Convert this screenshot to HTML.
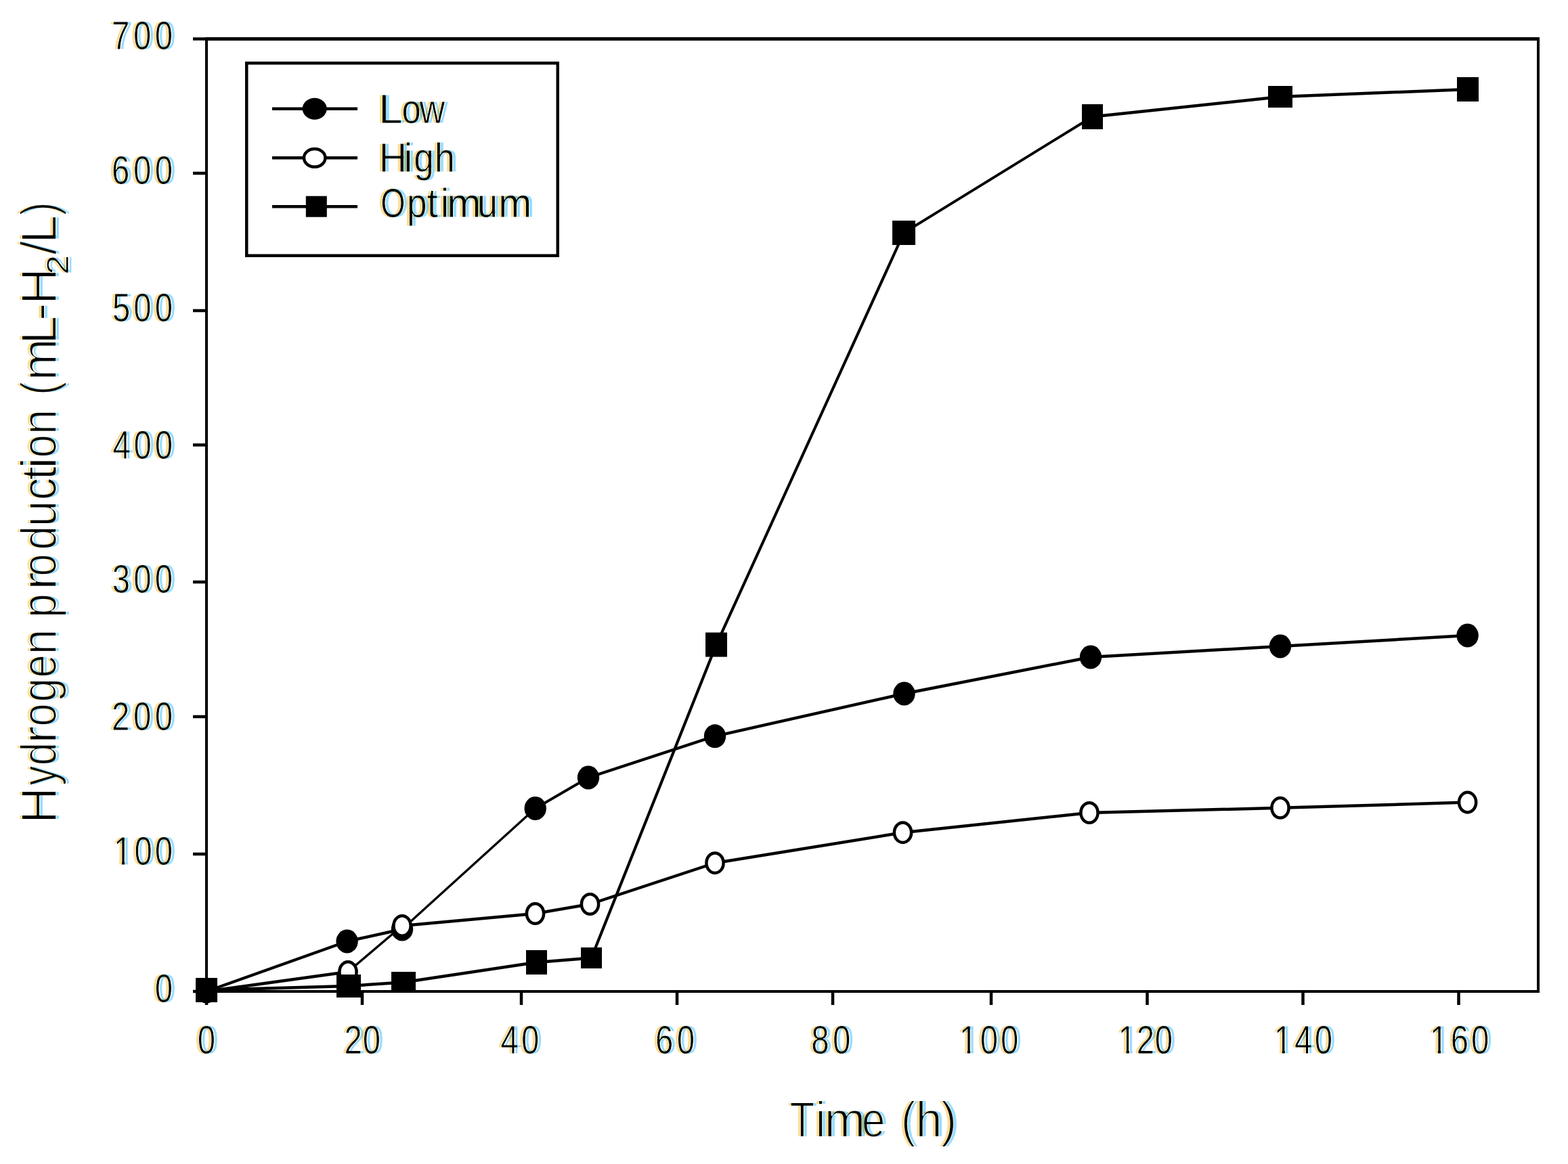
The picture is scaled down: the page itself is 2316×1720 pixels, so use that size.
<!DOCTYPE html>
<html><head><meta charset="utf-8"><title>Hydrogen production vs time</title>
<style>
html,body{margin:0;padding:0;background:#fff;}
body{width:2316px;height:1720px;overflow:hidden;}
svg{display:block;}
text{font-family:"Liberation Sans",Arial,sans-serif;fill:#000;stroke:#fff;stroke-linejoin:round;}
.t1{stroke-width:1.0px;}
.t2{stroke-width:2.0px;}
</style></head><body>
<svg width="2316" height="1720" viewBox="0 0 2316 1720">
<defs>
<filter id="ct" filterUnits="userSpaceOnUse" x="0" y="0" width="2316" height="1720" color-interpolation-filters="sRGB">
<feFlood flood-color="#fff" result="w"/>
<feComposite in="SourceGraphic" in2="w" operator="over" result="txt"/>
<feColorMatrix in="txt" type="matrix" values="0 0 0 0 0  0 0 0 0 0  0 0 0 0 0  -1 0 0 0 1" result="ink"/>
<feOffset in="ink" dx="4.5" dy="0" result="r0"/>
<feOffset in="ink" dx="-4.5" dy="0" result="b0"/>
<feColorMatrix in="r0" type="matrix" values="0 0 0 0 0  0 0 0 0 0  0 0 0 0 0  0 0 0 0.4 0" result="r1"/>
<feColorMatrix in="b0" type="matrix" values="0 0 0 0 0  0 0 0 0 0  0 0 0 0 0  0 0 0 0.42 0" result="b1"/>
<feComposite in="r1" in2="ink" operator="over" result="uR"/>
<feComposite in="b1" in2="ink" operator="over" result="uB"/>
<feColorMatrix in="uR" type="matrix" values="0 0 0 -1 1  0 0 0 0 0  0 0 0 0 0  0 0 0 0 1" result="cR"/>
<feColorMatrix in="r0" type="matrix" values="0 0 0 0 0  0 0 0 0 0  0 0 0 0 0  0 0 0 0.13 0" result="g1"/>
<feColorMatrix in="b0" type="matrix" values="0 0 0 0 0  0 0 0 0 0  0 0 0 0 0  0 0 0 0.13 0" result="g2"/>
<feComposite in="g1" in2="ink" operator="over" result="uG0"/>
<feComposite in="g2" in2="uG0" operator="over" result="uG"/>
<feColorMatrix in="uG" type="matrix" values="0 0 0 0 0  0 0 0 -1 1  0 0 0 0 0  0 0 0 0 1" result="cG"/>
<feColorMatrix in="uB" type="matrix" values="0 0 0 0 0  0 0 0 0 0  0 0 0 -1 1  0 0 0 0 1" result="cB"/>
<feComposite in="cR" in2="cG" operator="arithmetic" k1="0" k2="1" k3="1" k4="0" result="rg"/>
<feComposite in="rg" in2="cB" operator="arithmetic" k1="0" k2="1" k3="1" k4="0"/>
</filter>
</defs>
<rect x="0" y="0" width="2316" height="1720" fill="#fff"/>
<g filter="url(#ct)">
<text class="t1" y="73.0" font-size="59.3"><tspan x="165.1" textLength="26.38" lengthAdjust="spacingAndGlyphs">7</tspan><tspan x="196.9" textLength="26.38" lengthAdjust="spacingAndGlyphs">0</tspan><tspan x="228.8" textLength="26.38" lengthAdjust="spacingAndGlyphs">0</tspan></text>
<text class="t1" y="272.0" font-size="59.3"><tspan x="165.1" textLength="26.38" lengthAdjust="spacingAndGlyphs">6</tspan><tspan x="196.9" textLength="26.38" lengthAdjust="spacingAndGlyphs">0</tspan><tspan x="228.8" textLength="26.38" lengthAdjust="spacingAndGlyphs">0</tspan></text>
<text class="t1" y="474.5" font-size="59.3"><tspan x="165.9" textLength="26.38" lengthAdjust="spacingAndGlyphs">5</tspan><tspan x="197.3" textLength="26.38" lengthAdjust="spacingAndGlyphs">0</tspan><tspan x="228.8" textLength="26.38" lengthAdjust="spacingAndGlyphs">0</tspan></text>
<text class="t1" y="678.0" font-size="59.3"><tspan x="166.4" textLength="26.38" lengthAdjust="spacingAndGlyphs">4</tspan><tspan x="197.6" textLength="26.38" lengthAdjust="spacingAndGlyphs">0</tspan><tspan x="228.8" textLength="26.38" lengthAdjust="spacingAndGlyphs">0</tspan></text>
<text class="t1" y="876.0" font-size="59.3"><tspan x="165.7" textLength="26.38" lengthAdjust="spacingAndGlyphs">3</tspan><tspan x="197.2" textLength="26.38" lengthAdjust="spacingAndGlyphs">0</tspan><tspan x="228.8" textLength="26.38" lengthAdjust="spacingAndGlyphs">0</tspan></text>
<text class="t1" y="1079.0" font-size="59.3"><tspan x="165.1" textLength="26.38" lengthAdjust="spacingAndGlyphs">2</tspan><tspan x="196.9" textLength="26.38" lengthAdjust="spacingAndGlyphs">0</tspan><tspan x="228.8" textLength="26.38" lengthAdjust="spacingAndGlyphs">0</tspan></text>
<text class="t1" y="1277.7" font-size="59.3"><tspan x="168.0" textLength="26.38" lengthAdjust="spacingAndGlyphs">1</tspan><tspan x="198.6" textLength="26.38" lengthAdjust="spacingAndGlyphs">0</tspan><tspan x="228.8" textLength="26.38" lengthAdjust="spacingAndGlyphs">0</tspan></text>
<text class="t1" y="1481.0" font-size="59.3"><tspan x="228.7" textLength="26.38" lengthAdjust="spacingAndGlyphs">0</tspan></text>
<text class="t1" y="1557.0" font-size="59.3"><tspan x="291.8" textLength="26.38" lengthAdjust="spacingAndGlyphs">0</tspan></text>
<text class="t1" y="1557.0" font-size="59.3"><tspan x="508.5" textLength="26.38" lengthAdjust="spacingAndGlyphs">2</tspan><tspan x="535.8" textLength="26.38" lengthAdjust="spacingAndGlyphs">0</tspan></text>
<text class="t1" y="1557.0" font-size="59.3"><tspan x="739.4" textLength="26.38" lengthAdjust="spacingAndGlyphs">4</tspan><tspan x="770.0" textLength="26.38" lengthAdjust="spacingAndGlyphs">0</tspan></text>
<text class="t1" y="1557.0" font-size="59.3"><tspan x="967.9" textLength="26.38" lengthAdjust="spacingAndGlyphs">6</tspan><tspan x="999.8" textLength="26.38" lengthAdjust="spacingAndGlyphs">0</tspan></text>
<text class="t1" y="1557.0" font-size="59.3"><tspan x="1198.3" textLength="26.38" lengthAdjust="spacingAndGlyphs">8</tspan><tspan x="1229.9" textLength="26.38" lengthAdjust="spacingAndGlyphs">0</tspan></text>
<text class="t1" y="1557.0" font-size="59.3"><tspan x="1416.9" textLength="26.38" lengthAdjust="spacingAndGlyphs">1</tspan><tspan x="1447.7" textLength="26.38" lengthAdjust="spacingAndGlyphs">0</tspan><tspan x="1478.0" textLength="26.38" lengthAdjust="spacingAndGlyphs">0</tspan></text>
<text class="t1" y="1557.0" font-size="59.3"><tspan x="1651.6" textLength="26.38" lengthAdjust="spacingAndGlyphs">1</tspan><tspan x="1678.7" textLength="26.38" lengthAdjust="spacingAndGlyphs">2</tspan><tspan x="1705.8" textLength="26.38" lengthAdjust="spacingAndGlyphs">0</tspan></text>
<text class="t1" y="1557.0" font-size="59.3"><tspan x="1881.7" textLength="26.38" lengthAdjust="spacingAndGlyphs">1</tspan><tspan x="1911.9" textLength="26.38" lengthAdjust="spacingAndGlyphs">4</tspan><tspan x="1941.8" textLength="26.38" lengthAdjust="spacingAndGlyphs">0</tspan></text>
<text class="t1" y="1557.0" font-size="59.3"><tspan x="2111.9" textLength="26.38" lengthAdjust="spacingAndGlyphs">1</tspan><tspan x="2142.7" textLength="26.38" lengthAdjust="spacingAndGlyphs">6</tspan><tspan x="2173.0" textLength="26.38" lengthAdjust="spacingAndGlyphs">0</tspan></text>
<rect x="169.7" y="1273.0" width="10.3" height="6.9" fill="#fff"/>
<rect x="184.2" y="1273.0" width="9.9" height="6.9" fill="#fff"/>
<rect x="1418.6" y="1552.3" width="10.3" height="6.9" fill="#fff"/>
<rect x="1433.1" y="1552.3" width="9.9" height="6.9" fill="#fff"/>
<rect x="1653.3" y="1552.3" width="10.3" height="6.9" fill="#fff"/>
<rect x="1667.8" y="1552.3" width="9.9" height="6.9" fill="#fff"/>
<rect x="1883.4" y="1552.3" width="10.3" height="6.9" fill="#fff"/>
<rect x="1897.9" y="1552.3" width="9.9" height="6.9" fill="#fff"/>
<rect x="2113.6" y="1552.3" width="10.3" height="6.9" fill="#fff"/>
<rect x="2128.1" y="1552.3" width="9.9" height="6.9" fill="#fff"/>
<text class="t1" y="182.2" font-size="60.5"><tspan x="559.3" textLength="35.32" lengthAdjust="spacingAndGlyphs">L</tspan><tspan x="593.4" textLength="28.27" lengthAdjust="spacingAndGlyphs">o</tspan><tspan x="619.6" textLength="37.80" lengthAdjust="spacingAndGlyphs">w</tspan></text>
<text class="t1" y="254.3" font-size="60.5"><tspan x="559.8" textLength="41.37" lengthAdjust="spacingAndGlyphs">H</tspan><tspan x="596.7" textLength="12.64" lengthAdjust="spacingAndGlyphs">i</tspan><tspan x="611.3" textLength="29.68" lengthAdjust="spacingAndGlyphs">g</tspan><tspan x="641.7" textLength="30.32" lengthAdjust="spacingAndGlyphs">h</tspan></text>
<text class="t1" y="321.1" font-size="60.5"><tspan x="562.3" textLength="36.46" lengthAdjust="spacingAndGlyphs">O</tspan><tspan x="601.1" textLength="29.68" lengthAdjust="spacingAndGlyphs">p</tspan><tspan x="630.6" textLength="16.32" lengthAdjust="spacingAndGlyphs">t</tspan><tspan x="650.7" textLength="12.64" lengthAdjust="spacingAndGlyphs">i</tspan><tspan x="660.1" textLength="50.65" lengthAdjust="spacingAndGlyphs">m</tspan><tspan x="705.0" textLength="30.11" lengthAdjust="spacingAndGlyphs">u</tspan><tspan x="736.0" textLength="49.46" lengthAdjust="spacingAndGlyphs">m</tspan></text>
<text class="t2" y="1680.0" font-size="74"><tspan x="1166.6" textLength="36.73" lengthAdjust="spacingAndGlyphs">T</tspan><tspan x="1204.4" textLength="15.17" lengthAdjust="spacingAndGlyphs">i</tspan><tspan x="1217.6" textLength="60.87" lengthAdjust="spacingAndGlyphs">m</tspan><tspan x="1273.1" textLength="34.37" lengthAdjust="spacingAndGlyphs">e</tspan><tspan x="1307.4"> </tspan><tspan x="1331.0" textLength="21.35" lengthAdjust="spacingAndGlyphs">(</tspan><tspan x="1352.4" textLength="39.15" lengthAdjust="spacingAndGlyphs">h</tspan><tspan x="1389.6" textLength="23.86" lengthAdjust="spacingAndGlyphs">)</tspan></text>
<g transform="translate(83.0,0) rotate(-90)">
<text class="t2" y="0" font-size="74"><tspan x="-1217.2" textLength="54.30" lengthAdjust="spacingAndGlyphs">H</tspan><tspan x="-1160.8" textLength="29.26" lengthAdjust="spacingAndGlyphs">y</tspan><tspan x="-1131.3" textLength="34.50" lengthAdjust="spacingAndGlyphs">d</tspan><tspan x="-1099.1" textLength="26.64" lengthAdjust="spacingAndGlyphs">r</tspan><tspan x="-1073.4" textLength="34.16" lengthAdjust="spacingAndGlyphs">o</tspan><tspan x="-1037.5" textLength="35.74" lengthAdjust="spacingAndGlyphs">g</tspan><tspan x="-1001.5" textLength="34.37" lengthAdjust="spacingAndGlyphs">e</tspan><tspan x="-967.5" textLength="37.97" lengthAdjust="spacingAndGlyphs">n</tspan><tspan x="-929.6"> </tspan><tspan x="-913.0" textLength="35.86" lengthAdjust="spacingAndGlyphs">p</tspan><tspan x="-872.6" textLength="27.71" lengthAdjust="spacingAndGlyphs">r</tspan><tspan x="-851.5" textLength="32.98" lengthAdjust="spacingAndGlyphs">o</tspan><tspan x="-812.7" textLength="35.86" lengthAdjust="spacingAndGlyphs">d</tspan><tspan x="-778.6" textLength="39.01" lengthAdjust="spacingAndGlyphs">u</tspan><tspan x="-739.3" textLength="33.63" lengthAdjust="spacingAndGlyphs">c</tspan><tspan x="-709.7" textLength="20.89" lengthAdjust="spacingAndGlyphs">t</tspan><tspan x="-694.1" textLength="19.72" lengthAdjust="spacingAndGlyphs">i</tspan><tspan x="-676.5" textLength="34.28" lengthAdjust="spacingAndGlyphs">o</tspan><tspan x="-642.2" textLength="37.57" lengthAdjust="spacingAndGlyphs">n</tspan><tspan x="-604.6"> </tspan><tspan x="-584.1" textLength="20.35" lengthAdjust="spacingAndGlyphs">(</tspan><tspan x="-562.5" textLength="62.30" lengthAdjust="spacingAndGlyphs">m</tspan><tspan x="-509.0" textLength="42.63" lengthAdjust="spacingAndGlyphs">L</tspan><tspan x="-474.6" textLength="27.42" lengthAdjust="spacingAndGlyphs">-</tspan><tspan x="-450.2" textLength="54.30" lengthAdjust="spacingAndGlyphs">H</tspan><tspan class="t1" x="-406.1" y="17.5" font-size="46" textLength="29.30" lengthAdjust="spacingAndGlyphs">2</tspan><tspan x="-376.6" y="0" textLength="20.60" lengthAdjust="spacingAndGlyphs">/</tspan><tspan x="-359.9" y="0" textLength="42.38" lengthAdjust="spacingAndGlyphs">L</tspan><tspan x="-318.4" y="0" textLength="20.10" lengthAdjust="spacingAndGlyphs">)</tspan></text>
</g>
</g>
<g fill="#000">
<rect x="303" y="55" width="1971" height="5"/>
<rect x="303" y="1463" width="1971" height="4"/>
<rect x="303" y="55" width="4" height="1412"/>
<rect x="2270" y="55" width="4" height="1412"/>
<rect x="285" y="1462.75" width="19" height="4.5"/>
<rect x="285" y="1259.75" width="19" height="4.5"/>
<rect x="285" y="1056.75" width="19" height="4.5"/>
<rect x="285" y="857.75" width="19" height="4.5"/>
<rect x="285" y="655.25" width="19" height="4.5"/>
<rect x="285" y="456.75" width="19" height="4.5"/>
<rect x="285" y="253.75" width="19" height="4.5"/>
<rect x="285" y="55.25" width="19" height="4.5"/>
<rect x="302.75" y="1466" width="4.5" height="19"/>
<rect x="532.75" y="1466" width="4.5" height="19"/>
<rect x="767.75" y="1466" width="4.5" height="19"/>
<rect x="997.75" y="1466" width="4.5" height="19"/>
<rect x="1227.75" y="1466" width="4.5" height="19"/>
<rect x="1461.75" y="1466" width="4.5" height="19"/>
<rect x="1692.25" y="1466" width="4.5" height="19"/>
<rect x="1922.25" y="1466" width="4.5" height="19"/>
<rect x="2152.25" y="1466" width="4.5" height="19"/>
</g>
<g stroke="#000" fill="none" stroke-linecap="butt">
<line x1="305" y1="1465" x2="512.6" y2="1391" stroke-width="4.24"/>
<line x1="512.6" y1="1391" x2="594" y2="1373" stroke-width="4.39"/>
<line x1="594" y1="1373" x2="790.7" y2="1194.5" stroke-width="3.33"/>
<line x1="790.7" y1="1194.5" x2="869" y2="1149" stroke-width="3.89"/>
<line x1="869" y1="1149" x2="1056" y2="1087.8" stroke-width="4.28"/>
<line x1="1056" y1="1087.8" x2="1335.5" y2="1025" stroke-width="4.39"/>
<line x1="1335.5" y1="1025" x2="1611" y2="971" stroke-width="4.42"/>
<line x1="1611" y1="971" x2="1891" y2="955" stroke-width="4.49"/>
<line x1="1891" y1="955" x2="2167.6" y2="939" stroke-width="4.49"/>
<line x1="305" y1="1465" x2="514" y2="1436" stroke-width="4.46"/>
<line x1="514" y1="1436" x2="594" y2="1368" stroke-width="3.43"/>
<line x1="594" y1="1368" x2="790.5" y2="1350" stroke-width="4.48"/>
<line x1="790.5" y1="1350" x2="871.5" y2="1336" stroke-width="4.43"/>
<line x1="871.5" y1="1336" x2="1056" y2="1275.2" stroke-width="4.27"/>
<line x1="1056" y1="1275.2" x2="1333.5" y2="1230.2" stroke-width="4.44"/>
<line x1="1333.5" y1="1230.2" x2="1609" y2="1201" stroke-width="4.47"/>
<line x1="1609" y1="1201" x2="1891" y2="1193.8" stroke-width="4.50"/>
<line x1="1891" y1="1193.8" x2="2167.6" y2="1185.6" stroke-width="4.50"/>
<line x1="305" y1="1463" x2="515" y2="1457" stroke-width="4.50"/>
<line x1="515" y1="1457" x2="596" y2="1451.5" stroke-width="4.49"/>
<line x1="596" y1="1451.5" x2="792.5" y2="1422" stroke-width="4.45"/>
<line x1="792.5" y1="1422" x2="873.5" y2="1415.5" stroke-width="4.49"/>
<line x1="873.5" y1="1415.5" x2="1058" y2="952.6" stroke-width="4.18"/>
<line x1="1058" y1="952.6" x2="1335" y2="344" stroke-width="4.10"/>
<line x1="1335" y1="344" x2="1613.5" y2="172.5" stroke-width="3.83"/>
<line x1="1613.5" y1="172.5" x2="1891" y2="143" stroke-width="4.47"/>
<line x1="1891" y1="143" x2="2168" y2="132" stroke-width="4.50"/>
</g>
<g>
<ellipse cx="305" cy="1465" rx="16.2" ry="17.5" fill="#000"/>
<ellipse cx="512.6" cy="1391" rx="16.2" ry="17.5" fill="#000"/>
<ellipse cx="594" cy="1373" rx="16.2" ry="17.5" fill="#000"/>
<ellipse cx="790.7" cy="1194.5" rx="16.2" ry="17.5" fill="#000"/>
<ellipse cx="869" cy="1149" rx="16.2" ry="17.5" fill="#000"/>
<ellipse cx="1056" cy="1087.8" rx="16.2" ry="17.5" fill="#000"/>
<ellipse cx="1335.5" cy="1025" rx="16.2" ry="17.5" fill="#000"/>
<ellipse cx="1611" cy="971" rx="16.2" ry="17.5" fill="#000"/>
<ellipse cx="1891" cy="955" rx="16.2" ry="17.5" fill="#000"/>
<ellipse cx="2167.6" cy="939" rx="16.2" ry="17.5" fill="#000"/>
<ellipse cx="305" cy="1465" rx="12.6" ry="14.8" fill="#fff" stroke="#000" stroke-width="4.5"/>
<ellipse cx="514" cy="1436" rx="12.6" ry="14.8" fill="#fff" stroke="#000" stroke-width="4.5"/>
<ellipse cx="594" cy="1368" rx="12.6" ry="14.8" fill="#fff" stroke="#000" stroke-width="4.5"/>
<ellipse cx="790.5" cy="1350" rx="12.6" ry="14.8" fill="#fff" stroke="#000" stroke-width="4.5"/>
<ellipse cx="871.5" cy="1336" rx="12.6" ry="14.8" fill="#fff" stroke="#000" stroke-width="4.5"/>
<ellipse cx="1056" cy="1275.2" rx="12.6" ry="14.8" fill="#fff" stroke="#000" stroke-width="4.5"/>
<ellipse cx="1333.5" cy="1230.2" rx="12.6" ry="14.8" fill="#fff" stroke="#000" stroke-width="4.5"/>
<ellipse cx="1609" cy="1201" rx="12.6" ry="14.8" fill="#fff" stroke="#000" stroke-width="4.5"/>
<ellipse cx="1891" cy="1193.8" rx="12.6" ry="14.8" fill="#fff" stroke="#000" stroke-width="4.5"/>
<ellipse cx="2167.6" cy="1185.6" rx="12.6" ry="14.8" fill="#fff" stroke="#000" stroke-width="4.5"/>
<rect x="289.0" y="1445.0" width="32" height="36" fill="#000"/>
<rect x="497.0" y="1440.0" width="36" height="34" fill="#000"/>
<rect x="578.0" y="1436.0" width="36" height="31" fill="#000"/>
<rect x="777.0" y="1404.0" width="31" height="36" fill="#000"/>
<rect x="858.0" y="1400.0" width="31" height="31" fill="#000"/>
<rect x="1042.0" y="934.6" width="32" height="36" fill="#000"/>
<rect x="1318.0" y="326.0" width="34" height="36" fill="#000"/>
<rect x="1598.0" y="154.0" width="31" height="37" fill="#000"/>
<rect x="1873.0" y="127.0" width="36" height="32" fill="#000"/>
<rect x="2152.0" y="114.0" width="32" height="36" fill="#000"/>
</g>
<rect x="364.25" y="93.25" width="459.5" height="284.5" fill="none" stroke="#000" stroke-width="4.5"/>
<line x1="402" y1="160.7" x2="528" y2="160.7" stroke="#000" stroke-width="4.5"/>
<ellipse cx="464.7" cy="160.7" rx="18" ry="16" fill="#000"/>
<line x1="402" y1="233.3" x2="528" y2="233.3" stroke="#000" stroke-width="4.5"/>
<ellipse cx="464.7" cy="233.3" rx="15.75" ry="13.3" fill="#fff" stroke="#000" stroke-width="4.5"/>
<line x1="402" y1="305.2" x2="528" y2="305.2" stroke="#000" stroke-width="4.5"/>
<rect x="451.8" y="289.7" width="31" height="31" fill="#000"/>
</svg></body></html>
